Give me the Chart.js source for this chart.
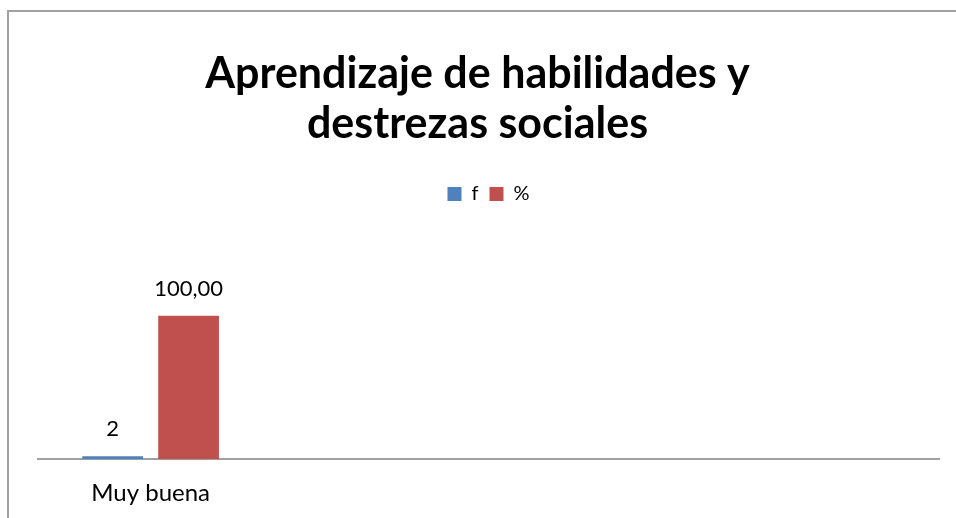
<!DOCTYPE html>
<html>
<head>
<meta charset="utf-8">
<script src="https://cdn.jsdelivr.net/npm/chart.js@4.4.1/dist/chart.umd.min.js"></script>
<style>
  html, body { margin: 0; padding: 0; background: #fff; overflow: hidden; }
  #frame { position: absolute; left: 7px; top: 10px; width: 1000px; height: 600px;
           border-left: 2px solid #a0a0a0; border-top: 2px solid #a0a0a0; }
  #wrap { position: absolute; left: 0; top: 0; width: 956px; height: 518px; }
</style>
</head>
<body>
<div id="frame"></div>
<div id="wrap"><canvas id="chart"></canvas></div>
<script>
// categories (only the first one has data, the rest are empty slots)
const categories = ["Muy buena", "", "", ""];
const fValues = [2, null, null, null];
const pctValues = [100, null, null, null];
const seriesNames = ["f", "%"];

// value labels above the bars
const valueLabels = {
  id: "valueLabels",
  afterDatasetsDraw(chart) {
    const ctx = chart.ctx;
    ctx.save();
    ctx.font = "22px Lato";
    ctx.fillStyle = "#000";
    ctx.textAlign = "center";
    ctx.textBaseline = "middle";
    chart.data.datasets.forEach((ds, i) => {
      const meta = chart.getDatasetMeta(i);
      meta.data.forEach((bar, j) => {
        const v = ds.data[j];
        if (v == null) return;
        const txt = i === 1 ? v.toFixed(2).replace(".", ",") : String(v);
        ctx.fillText(txt, bar.x, bar.y - 27);
      });
    });
    ctx.restore();
  }
};

new Chart(document.getElementById("chart"), {
  type: "bar",
  data: {
    labels: categories,
    datasets: [
      { label: seriesNames[0], data: fValues, backgroundColor: "#4F81BD" },
      { label: seriesNames[1], data: pctValues, backgroundColor: "#C0504D" },
    ],
  },
  options: {
    responsive: true,
    maintainAspectRatio: false,
    animation: false,
    categoryPercentage: 0.674,
    barPercentage: 0.8,
    layout: { padding: { left: 16, right: 17, top: 25, bottom: -10 } },
    plugins: {
      title: {
        display: true,
        text: ["Aprendizaje de habilidades y", "destrezas sociales"],
        color: "#000",
        font: { family: "Lato", size: 43, weight: "bold", lineHeight: 1.163 },
        padding: { top: 24, bottom: 24 },
      },
      // empty spacer between legend and plot area
      subtitle: {
        display: true,
        text: "",
        weight: 500,
        fullSize: false,
        font: { size: 10, lineHeight: 1 },
        padding: { top: 0, bottom: 63 },
      },
      legend: {
        position: "top",
        fullSize: false,
        labels: {
          color: "#000",
          font: { family: "Lato", size: 20 },
          boxWidth: 14,
          boxHeight: 14,
          padding: 11,
        },
      },
      tooltip: { enabled: false },
    },
    scales: {
      x: {
        grid: { display: false, drawTicks: false },
        border: { color: "#a0a0a0", width: 2 },
        ticks: { color: "#000", font: { family: "Lato", size: 24 }, padding: 20 },
      },
      y: {
        min: 0,
        max: 120,
        grid: { display: false, drawTicks: false },
        border: { display: false },
        ticks: { display: false },
        afterFit(scale) { scale.width = 22; },
      },
    },
  },
  plugins: [valueLabels],
});
</script>
</body>
</html>
